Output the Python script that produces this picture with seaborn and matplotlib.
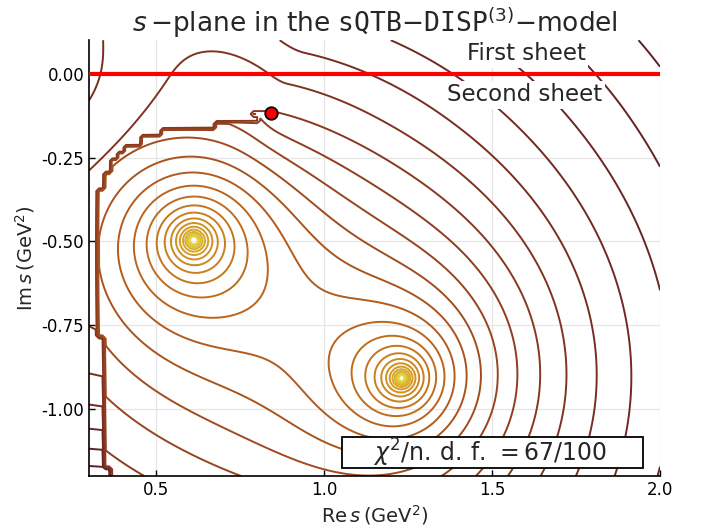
import numpy as np
import matplotlib
matplotlib.use("Agg")
import matplotlib.pyplot as plt
from matplotlib.path import Path
from matplotlib.patches import Rectangle
from matplotlib.colors import Normalize
import seaborn as sns

# second-sheet poles (GeV^2)
pole_re = [0.612, 1.231]
pole_im = [-0.497, -0.908]

# branch point (red dot) and the cut that starts there
branch_re = 0.842
branch_im = -0.118
cut_re = [0.842, 0.77, 0.62, 0.51, 0.44, 0.39, 0.36, 0.335, 0.325, 0.327, 0.34, 0.345, 0.36]
cut_im = [-0.125, -0.145, -0.16, -0.18, -0.205, -0.245, -0.285, -0.33, -0.40, -0.77, -0.80, -1.03, -1.25]

# zero of the first-sheet part on the real axis, and where its contours cross Im s = 0
zero_re = 0.14
first_cross_re = [0.34, 0.557]

sheet_labels = ["First sheet", "Second sheet"]
chi2 = 67
ndf = 100

xticks = [0.5, 1.0, 1.5, 2.0]
yticks = [0.0, -0.25, -0.5, -0.75, -1.0]
xlim = (0.3, 2.0)
ylim = (-1.2, 0.1)

# model constants for the continuation
k_cut = 0.9
b_curv = 0.8
a_pole = 0.2
step = 0.25

sns.set_theme(style="whitegrid")
plt.rcParams["font.family"] = ["DejaVu Sans"]
plt.rcParams["axes.unicode_minus"] = False

x = np.linspace(xlim[0], xlim[1], 171)
y = np.linspace(ylim[0], ylim[1], 131)
X, Y = np.meshgrid(x, y)
S = X + 1j * Y
poles = [r + 1j * i for r, i in zip(pole_re, pole_im)]
b = branch_re + 1j * branch_im


def f_second(s):
    return -sum(np.log(np.abs(s - p)) for p in poles)


def f_first(s, c, g):
    return c + g * np.log(np.abs(s - zero_re)) + a_pole * f_second(s) - b_curv * np.imag(s) ** 4


z = S - b
phi = np.angle(z)

# which side of the cut -> decided on coarse cells, gives the staircase edge
cell = 0.022
cx = (np.floor((X - xlim[0]) / cell) + 0.5) * cell + xlim[0]
cy = (np.floor((Y - ylim[0]) / cell) + 0.5) * cell + ylim[0]
poly = Path(np.column_stack([cut_re + [0.2, 0.2], cut_im + [-1.3, 0.05]]))
upper = poly.contains_points(np.column_stack([cx.ravel(), cy.ravel()])).reshape(X.shape)
upper = upper & (Y < branch_im) & (X < branch_re)
phi = np.where(upper, phi + 2 * np.pi, phi)

jump = np.where(phi < 0, k_cut * np.sqrt(np.abs(z)) * np.sin(phi / 2) ** 2, 0.0)
F2 = f_second(S) + jump

f_top = f_second(poles[0] + 0.006)
levels = np.arange(f_top - step * 45, f_top, step)

# first-sheet side: one level step between the two crossings, matched at the branch point
c1, c2 = first_cross_re
g_zero = (step - a_pole * (f_second(c2) - f_second(c1))) / np.log((c2 - zero_re) / (c1 - zero_re))
c0 = f_second(b) - f_first(b, 0.0, g_zero)
f_cross = f_first(c1, c0, g_zero)
c0 += levels[np.argmin(np.abs(levels - f_cross))] - f_cross + 0.01
F1 = f_first(S, c0, g_zero)

t = np.clip((phi - np.pi / 3) / (0.9 * np.pi - np.pi / 3), 0, 1)
w = t * t * (3 - 2 * t)
F = (1 - w) * F2 + w * F1
levels = levels[levels > F.min()]

cmap = sns.blend_palette(["#5a1d24", "#742a22", "#93401f", "#b8601c", "#cc851e", "#d9ad28", "#e6e34e"], as_cmap=True)
norm = Normalize(vmin=f_top - 6.2, vmax=f_top)

fig = plt.figure(figsize=(7.02, 5.29), dpi=100)
ax = fig.add_axes([0.1268, 0.100, 0.8134, 0.824])

ax.contour(X, Y, F, levels=levels, cmap=cmap, norm=norm, linewidths=1.4, zorder=2)

ax.axhline(0, color="red", lw=3.0, zorder=5)
ax.plot([branch_re], [branch_im], "o", ms=9, mfc="red", mec="black", mew=1.3, zorder=6)

ax.text(1.601, 0.06, sheet_labels[0], fontsize=16.5, ha="center", va="center",
        bbox=dict(facecolor="white", edgecolor="none", pad=2), zorder=4)
ax.text(1.598, -0.063, sheet_labels[1], fontsize=16.5, ha="center", va="center",
        bbox=dict(facecolor="white", edgecolor="none", pad=2), zorder=4)

ax.add_patch(Rectangle((0.443, 0.018), 0.527, 0.071, transform=ax.transAxes,
                       facecolor="white", edgecolor="black", lw=1.3, zorder=7))
ax.text(0.703, 0.053, r"$\chi^2/\mathrm{n.\,d.\,f.}\,=%d/%d$" % (chi2, ndf), transform=ax.transAxes,
        fontsize=17, ha="center", va="center", zorder=8)

ax.set_xlim(*xlim)
ax.set_ylim(*ylim)
ax.set_xticks(xticks)
ax.set_xticklabels(["%.1f" % v for v in xticks])
ax.set_yticks(yticks)
ax.set_yticklabels(["%.2f" % v for v in yticks])
ax.tick_params(direction="in", length=4, width=1, colors="black", labelsize=12, left=True, bottom=True)
ax.grid(True, color="#e6e6e6", lw=0.9)
for side in ["top", "right"]:
    ax.spines[side].set_visible(False)
for side in ["left", "bottom"]:
    ax.spines[side].set_color("black")
    ax.spines[side].set_linewidth(1.2)

ax.set_xlabel(r"$\mathrm{Re}\,s\,(\mathrm{GeV}^2)$", fontsize=14, labelpad=3)
ax.set_ylabel(r"$\mathrm{Im}\,s\,(\mathrm{GeV}^2)$", fontsize=14, labelpad=3)
ax.set_title(r"$s\,$−plane in the $\mathtt{sQTB}$−$\mathtt{DISP}^{(3)}$−model", fontsize=19, pad=6)

fig.savefig("out.png", dpi=100)
